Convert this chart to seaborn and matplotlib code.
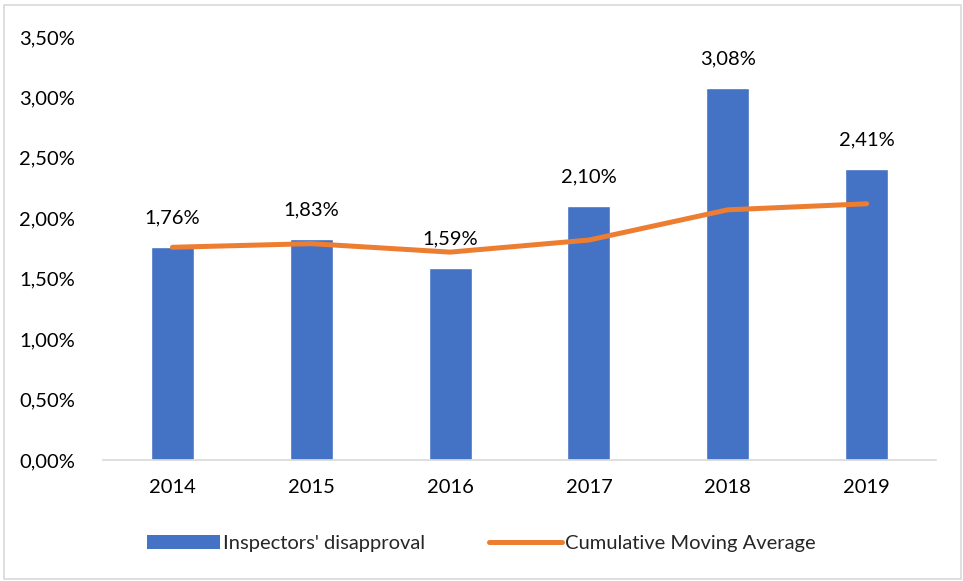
import matplotlib.pyplot as plt
import pandas as pd
import seaborn as sns
from matplotlib.lines import Line2D
from matplotlib.patches import Patch, Rectangle
from matplotlib.ticker import FuncFormatter

# 데이터
years = ["2014", "2015", "2016", "2017", "2018", "2019"]
disapproval = [1.76, 1.83, 1.59, 2.10, 3.08, 2.41]
moving_avg = [1.76, 1.79, 1.72, 1.82, 2.07, 2.12]

BAR_COLOR = "#4472C4"
LINE_COLOR = "#ED7D31"
FS = 14.5

sns.set_style("white")
plt.rcParams["font.family"] = ["Lato", "DejaVu Sans"]

df = pd.DataFrame({"year": years, "value": disapproval, "cma": moving_avg})
df["pos"] = range(len(df))

fig = plt.figure(figsize=(9.63, 5.81), dpi=100)
ax = fig.add_axes([0.107, 0.2083, 0.865, 0.728])

sns.barplot(data=df, x="year", y="value", color=BAR_COLOR,
            width=0.31, saturation=1, ax=ax)
sns.lineplot(data=df, x="pos", y="cma", color=LINE_COLOR,
             linewidth=3.6, solid_capstyle="round", ax=ax)

for i, v in enumerate(disapproval):
    ax.annotate(f"{v:.2f}%".replace(".", ","), (i, v),
                xytext=(0, 15), textcoords="offset points",
                ha="center", va="bottom", fontsize=FS, color="black")

ax.set_xlim(-0.5, 5.5)
ax.set_ylim(0, 3.5)
ax.set_yticks([i * 0.5 for i in range(8)])
ax.yaxis.set_major_formatter(
    FuncFormatter(lambda y, _: f"{y:.2f}%".replace(".", ",")))
ax.set_xlabel("")
ax.set_ylabel("")
ax.tick_params(axis="both", length=0, labelsize=FS, colors="black")
ax.tick_params(axis="x", pad=14)
ax.tick_params(axis="y", pad=20)

for side in ["top", "right", "left"]:
    ax.spines[side].set_visible(False)
ax.spines["bottom"].set_color("#D9D9D9")
ax.spines["bottom"].set_linewidth(1.2)

handles = [
    Patch(facecolor=BAR_COLOR, edgecolor="none"),
    Line2D([0], [0], color=LINE_COLOR, linewidth=3.6, solid_capstyle="round"),
]
fig.legend(handles, ["Inspectors' disapproval", "Cumulative Moving Average"],
           loc="center", bbox_to_anchor=(0.5, 0.065), ncol=2, frameon=False,
           fontsize=FS, handlelength=3.6, handleheight=0.7,
           handletextpad=0.15, columnspacing=3.2)

fig.patches.append(Rectangle((0.004, 0.003), 0.994, 0.988,
                             transform=fig.transFigure, fill=False,
                             edgecolor="#D9D9D9", linewidth=1.2))

fig.savefig("out.png", dpi=100)
